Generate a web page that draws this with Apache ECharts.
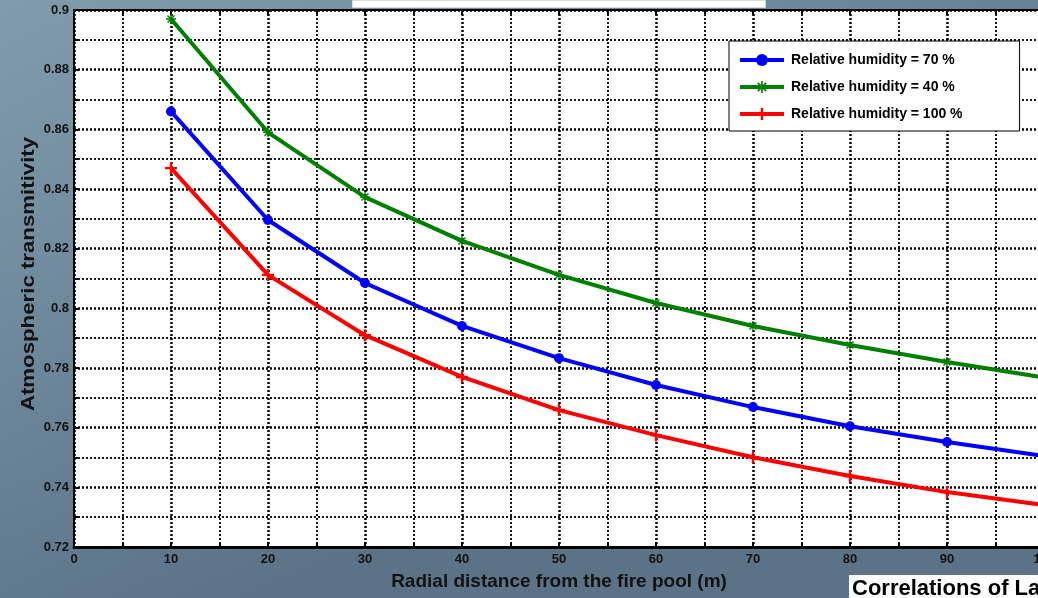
<!DOCTYPE html>
<html>
<head>
<meta charset="utf-8">
<script src="https://cdn.jsdelivr.net/npm/echarts@6/dist/echarts.min.js"></script>
<style>
  html, body { margin: 0; padding: 0; overflow: hidden; width: 1038px; height: 598px; }
  #chart { width: 1064px; height: 598px; }
</style>
</head>
<body>
<div id="chart"></div>
<script>
// Radial distance from the fire pool (m)
const distances = [10, 20, 30, 40, 50, 60, 70, 80, 90, 100];

// Atmospheric transmitivity for each relative humidity
const rh70 = [0.866, 0.8296, 0.8085, 0.7941, 0.7833, 0.7743, 0.7669, 0.7605, 0.7552, 0.7505];
const rh40 = [0.897, 0.859, 0.8373, 0.8226, 0.8112, 0.8018, 0.7941, 0.7877, 0.782, 0.7768];
const rh100 = [0.847, 0.8112, 0.791, 0.777, 0.7659, 0.7575, 0.7501, 0.7438, 0.7384, 0.7341];

const seriesNames = ['Relative humidity = 70 %', 'Relative humidity = 40 %', 'Relative humidity = 100 %'];

const plusPath = 'path://M4,0H6V4H10V6H6V10H4V6H0V4H4Z';
const starPath = 'path://M4.3,0H5.7V3.3L8.0,1.0L9.0,2.0L6.7,4.3H10V5.7H6.7L9.0,8.0L8.0,9.0L5.7,6.7V10H4.3V6.7L2.0,9.0L1.0,8.0L3.3,5.7H0V4.3H3.3L1.0,2.0L2.0,1.0L4.3,3.3Z';

const pairs = arr => distances.map((d, i) => [d, arr[i]]);

const chart = echarts.init(document.getElementById('chart'), null, { renderer: 'canvas' });

const FONT = '"Liberation Sans", Arial, sans-serif';
const labelFont = { fontFamily: FONT, fontWeight: 'bold', color: '#111' };
const dotted = (w) => ({ color: '#000', width: w, type: [2, 2] });
const tickStyle = { color: '#000', width: 2 };

chart.setOption({
  backgroundColor: {
    type: 'linear', x: 0, y: 0, x2: 0.25, y2: 1,
    colorStops: [
      { offset: 0, color: '#809cac' },
      { offset: 0.5, color: '#6e889b' },
      { offset: 1, color: '#5b7287' }
    ]
  },
  animation: false,
  grid: {
    left: 74, top: 10, width: 970, height: 537,
    show: true, backgroundColor: '#fff', borderColor: '#000', borderWidth: 2
  },
  legend: {
    orient: 'vertical',
    left: 729, top: 41,
    data: seriesNames,
    backgroundColor: '#fff',
    borderColor: '#000', borderWidth: 1, borderRadius: 0,
    padding: [12, 57, 10, 9],
    itemWidth: 44, itemHeight: 15, itemGap: 13,
    lineStyle: { width: 4 },
    textStyle: Object.assign({ fontSize: 14 }, labelFont, { color: '#000', padding: [0, 0, 0, 2] })
  },
  xAxis: [{
    type: 'value', min: 0, max: 100, interval: 10,
    name: 'Radial distance from the fire pool (m)',
    nameLocation: 'middle', nameGap: 25,
    nameTextStyle: Object.assign({ fontSize: 19 }, labelFont),
    axisLine: { show: true, lineStyle: { color: '#000', width: 3 } },
    axisTick: { show: true, inside: true, length: 5, lineStyle: tickStyle },
    minorTick: { show: true, splitNumber: 2, length: 4, lineStyle: tickStyle },
    axisLabel: Object.assign({ fontSize: 13, margin: 6 }, labelFont),
    splitLine: { show: true, lineStyle: dotted(2.5) },
    minorSplitLine: { show: true, lineStyle: dotted(1.8) }
  }, {
    type: 'value', position: 'top', min: 0, max: 100, interval: 10,
    axisLine: { show: false },
    axisTick: { show: true, inside: true, length: 5, lineStyle: tickStyle },
    minorTick: { show: true, splitNumber: 2, length: 4, lineStyle: tickStyle },
    axisLabel: { show: false },
    splitLine: { show: false }
  }],
  yAxis: {
    type: 'value', min: 0.72, max: 0.9, interval: 0.02,
    axisLine: { show: true, lineStyle: { color: '#000', width: 2 } },
    axisTick: { show: true, inside: true, length: 5, lineStyle: tickStyle },
    minorTick: { show: true, splitNumber: 2, length: 4, lineStyle: tickStyle },
    axisLabel: Object.assign({
      fontSize: 13, margin: 5,
      formatter: v => String(parseFloat(v.toFixed(2)))
    }, labelFont),
    splitLine: { show: true, lineStyle: dotted(2.5) },
    minorSplitLine: { show: true, lineStyle: dotted(1.8) }
  },
  series: [{
    name: seriesNames[1], type: 'line', data: pairs(rh40),
    color: '#008000', symbol: starPath, symbolSize: 10,
    lineStyle: { width: 4 }, itemStyle: { color: '#008000' }
  }, {
    name: seriesNames[0], type: 'line', data: pairs(rh70),
    color: '#0000ff', symbol: 'circle', symbolSize: 10,
    lineStyle: { width: 4 }, itemStyle: { color: '#0000ff' }
  }, {
    name: seriesNames[2], type: 'line', data: pairs(rh100),
    color: '#ff0000', symbol: plusPath, symbolSize: 12,
    lineStyle: { width: 4 }, itemStyle: { color: '#ff0000' }
  }],
  graphic: [{
    // vertical axis title, slightly elongated along its reading direction
    type: 'text', x: 29, y: 274, rotation: Math.PI / 2, scaleX: 1.17, z: 50,
    style: {
      text: 'Atmospheric transmitivity', fill: '#111',
      font: 'bold 19px ' + FONT, align: 'center', verticalAlign: 'middle'
    }
  }, {
    type: 'rect', left: 352, top: 0, shape: { width: 413, height: 7 },
    style: { fill: '#fff', stroke: '#d8dde0', lineWidth: 1 }, z: 100
  }, {
    type: 'rect', left: 849, top: 575, shape: { width: 220, height: 30 },
    style: { fill: '#fff' }, z: 100
  }, {
    type: 'text', left: 852, top: 578, z: 101,
    style: {
      text: 'Correlations of La', fill: '#000',
      font: 'bold 22px ' + FONT
    }
  }]
});
</script>
</body>
</html>
